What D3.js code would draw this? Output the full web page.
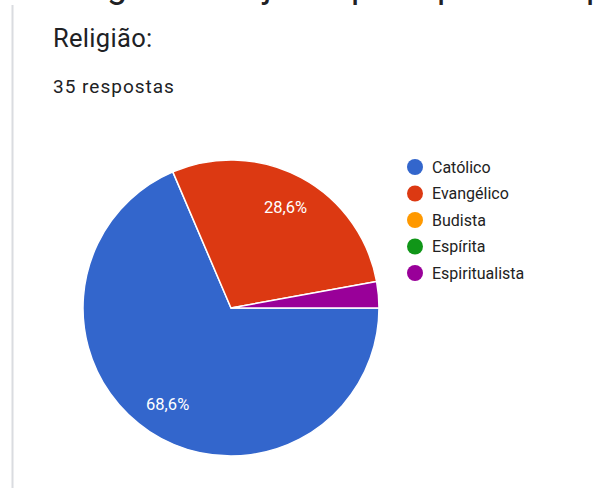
<!DOCTYPE html>
<html>
<head>
<meta charset="utf-8">
<script src="https://cdn.jsdelivr.net/npm/d3@7"></script>
<style>
  html, body { margin: 0; padding: 0; background: #fff; }
  svg { display: block; font-family: Roboto, "Noto Sans", sans-serif; }
</style>
</head>
<body>
<svg id="chart" width="602" height="488"></svg>
<script>
// Survey answers: "Religião:" (35 respostas)
const categories = ["Católico", "Evangélico", "Budista", "Espírita", "Espiritualista"];
const counts = [24, 10, 0, 0, 1];
const colors = ["#3366cc", "#dc3912", "#ff9900", "#109618", "#990099"];
const title = "Religião:";
const subtitle = "35 respostas";
// Tail end of the previous line of the form, cut off at the top edge
const headGlyphs = ["g", "j", "p", "p", "p"];
const headGlyphX = [107, 263, 351, 437, 586];

const svg = d3.select("#chart");
const total = d3.sum(counts);

// Card border on the left
svg.append("line")
  .attr("x1", 12.5).attr("x2", 12.5)
  .attr("y1", 5).attr("y2", 488)
  .attr("stroke", "#dadce0").attr("stroke-width", 2);

// Cut-off glyphs of the line above
svg.append("g").selectAll("text")
  .data(headGlyphs)
  .join("text")
  .attr("x", (d, i) => headGlyphX[i])
  .attr("y", -3.5)
  .attr("font-size", 36)
  .attr("fill", "#202124")
  .text(d => d);

svg.append("text")
  .attr("x", 53).attr("y", 47)
  .attr("font-size", 25.5)
  .attr("letter-spacing", 0.3)
  .attr("fill", "#202124")
  .text(title);

svg.append("text")
  .attr("x", 53).attr("y", 93)
  .attr("font-size", 19)
  .attr("letter-spacing", 1)
  .attr("fill", "#202124")
  .text(subtitle);

// Pie, starting at 3 o'clock and running clockwise
const cx = 231, cy = 308, r = 148;
const pie = d3.pie()
  .value(d => d.value)
  .sort(null)
  .startAngle(Math.PI / 2)
  .endAngle(Math.PI / 2 + 2 * Math.PI);

const data = categories.map((c, i) => ({ name: c, value: counts[i], color: colors[i] }));
const arcs = pie(data);

const arc = d3.arc().innerRadius(0).outerRadius(r);
const labelArc = d3.arc().innerRadius(115).outerRadius(115);

const g = svg.append("g").attr("transform", `translate(${cx},${cy})`);

g.selectAll("path")
  .data(arcs.filter(a => a.data.value > 0))
  .join("path")
  .attr("d", arc)
  .attr("fill", d => d.data.color)
  .attr("stroke", "#fff")
  .attr("stroke-width", 1.5)
  .attr("stroke-linejoin", "round");

const fmt = v => (v * 100).toFixed(1).replace(".", ",") + "%";

g.selectAll("text.pct")
  .data(arcs.filter(a => a.data.value / total > 0.05))
  .join("text")
  .attr("class", "pct")
  .attr("transform", d => `translate(${labelArc.centroid(d)})`)
  .attr("text-anchor", "middle")
  .attr("dy", "0.35em")
  .attr("font-size", 16.5)
  .attr("fill", "#fff")
  .text(d => fmt(d.data.value / total));

// Legend
const legendY = d3.scalePoint()
  .domain(categories)
  .range([167, 273]);

const legend = svg.append("g").selectAll("g")
  .data(data)
  .join("g")
  .attr("transform", d => `translate(415,${legendY(d.name)})`);

legend.append("circle")
  .attr("r", 8)
  .attr("fill", d => d.color);

legend.append("text")
  .attr("x", 17)
  .attr("dy", "0.36em")
  .attr("font-size", 16)
  .attr("fill", "#222")
  .text(d => d.name);
</script>
</body>
</html>
